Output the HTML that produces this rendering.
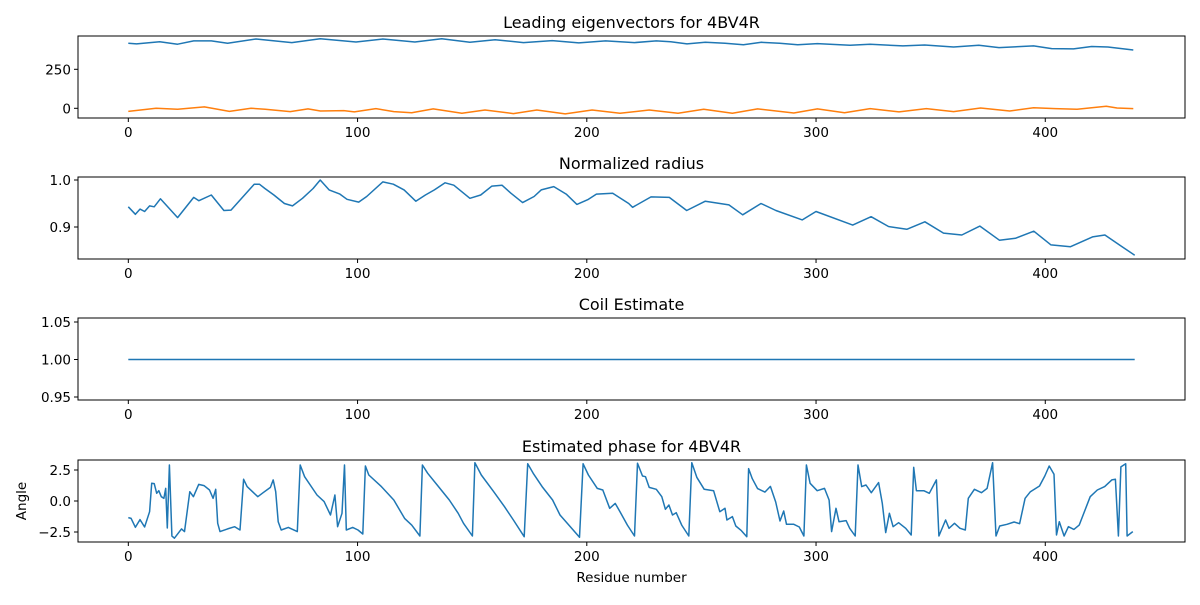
<!DOCTYPE html>
<html><head><meta charset="utf-8"><style>
body{margin:0;background:#fff}
svg text{font-family:"DejaVu Sans","Liberation Sans",sans-serif;fill:#000}
</style></head><body>
<svg id="fig" width="1200" height="600" xmlns="http://www.w3.org/2000/svg"></svg>
<script>
const eigX = [0,3.6,13.7,21.5,28.5,36.2,43.3,55.7,71.3,83.7,99.3,111,125,136.7,149,160,172.4,184.9,196.5,208.2,220.8,230.3,236.6,243.7,251.7,260.3,268.3,276.2,284.1,292,300.6,314.8,323.6,337.9,347.4,360,371,379.8,394.9,402.8,412.3,420.2,427.3,438.4];
const eigBlue = [417,413,427,411,432,432,417,444,421,446,425,444,425,446,423,440,421,434,419,432,421,432,427,413,423,417,408,423,417,408,415,404,410,400,406,393,404,389,400,383,381,396,393,374];
const orX = [0,12.1,21.5,33.2,44.1,53.5,59.7,70.6,78.4,83.8,94,98.6,108,115.8,123.6,133,145.5,155.6,168,178.2,190.6,202.3,214.5,227.2,239.8,251,263.5,274.5,290.3,300.6,312.4,323.6,336.2,348.1,360,371.8,384.5,394.9,404.4,413.9,426.6,431.3,438.4];
const orVals = [-20,0,-6,9,-20,0,-6,-21,-4,-17,-15,-23,-2,-21,-28,-4,-32,-11,-34,-11,-36,-11,-32,-11,-32,-6,-32,-4,-30,-4,-28,-2,-23,-2,-21,2,-17,4,-2,-6,13,2,-2];
const radX = [0,3.1,5.1,7.1,9.3,11.3,14,21.5,28.5,30.8,36.2,41.7,44.8,54.9,57.2,59.6,63.5,68.1,71.6,76,80.6,83.7,87.6,92.3,95.4,100.5,104,111,115.6,120.3,125.4,129.6,133.5,138.2,142,149,153.7,158.6,163,166.9,172,177,180.1,185.6,191,195.7,200.4,204.2,211.3,218.3,220,228,236,243.6,251.7,262,268,276,282.5,294,300,316,324,331.6,339.6,347.5,355.6,363.6,371.5,380,387,395,402.5,411,420.6,426,433.5,439];
const radVals = [0.943,0.927,0.938,0.933,0.945,0.943,0.960,0.920,0.963,0.956,0.968,0.935,0.936,0.991,0.991,0.982,0.968,0.950,0.945,0.961,0.982,1.0,0.979,0.970,0.959,0.953,0.965,0.996,0.991,0.979,0.955,0.968,0.979,0.994,0.989,0.961,0.968,0.987,0.989,0.972,0.952,0.965,0.979,0.986,0.970,0.948,0.958,0.970,0.972,0.950,0.942,0.964,0.963,0.935,0.955,0.947,0.926,0.950,0.935,0.915,0.933,0.904,0.922,0.901,0.895,0.911,0.887,0.883,0.902,0.872,0.876,0.891,0.862,0.858,0.879,0.883,0.858,0.840];
const coilX = [0,439];
const coilVals = [1,1];
const phX = [0,1.2,3.1,5.1,7.1,9.3,10.2,11.3,12.4,13.3,14.4,15.5,16.3,17,17.9,19,20.1,23.2,24.5,26.8,28.4,30.7,33,35.4,37,38.1,39,40,43.3,46.4,48.7,50.3,51.8,56.5,58.8,62,63.2,64.3,65.4,66.7,69.8,73.7,75,76.9,82.3,85.4,88.2,90.1,91.3,93.2,94.3,95.1,97.9,100.2,102.3,103.4,104.9,110.4,115.8,120.5,123.6,127.2,128.3,130.6,135.3,140,143.9,146.2,150.1,151.2,154,159.4,164.1,168,172.7,174.2,176.6,180.5,185.1,188.3,192.2,196.8,198.4,200.7,204.6,207,210,212.4,214.5,217.7,220.8,222.1,224.3,225.6,227.2,230.3,232.7,234.3,235.8,237.4,239,241.4,244.5,245.8,248,251.2,255.3,258,260.3,261.1,263.5,265,267.4,269.8,270.6,272.2,274.5,277.7,280.1,282.4,284.3,285.9,287.1,290.3,292.7,294.7,295.8,297.4,300.5,303.7,305.7,306.8,308.7,310,313.1,314.7,317.1,318.3,319.9,321.8,324.1,327.3,328.9,330.4,332,333.6,336,339.1,341.5,342.6,343.8,347,349.4,352.5,353.6,356.5,358,360.4,362.8,365.1,366.4,369.1,372.2,374.6,377,378.5,380.1,383.3,386.4,388.8,391.2,393.5,397.5,399.8,401.7,403.8,404.9,406.1,408.2,410.1,412.5,414.8,419.6,422.7,425.9,429,430.6,431.9,433,435.1,435.7,438.2];
const phVals = [-1.34,-1.4,-2.12,-1.5,-2.1,-0.86,1.43,1.4,0.62,0.83,0.35,0.22,1.02,-2.18,2.9,-2.82,-3.0,-2.25,-2.47,0.75,0.35,1.34,1.24,0.89,0.22,0.94,-1.8,-2.47,-2.25,-2.07,-2.34,1.75,1.16,0.35,0.67,1.1,1.7,0.75,-1.67,-2.34,-2.13,-2.47,2.9,1.96,0.48,-0.05,-1.13,0.48,-2.07,-0.99,2.9,-2.34,-2.13,-2.34,-2.66,2.82,2.1,1.16,0.08,-1.4,-1.94,-2.82,2.9,2.23,1.16,0.08,-0.99,-1.8,-2.82,3.09,2.1,0.75,-0.46,-1.53,-2.88,3.0,2.23,1.16,0.08,-1.13,-1.94,-2.93,3.0,2.1,1.02,0.89,-0.59,-0.19,-0.86,-1.94,-2.82,3.04,2.02,1.96,1.1,0.94,0.35,-0.67,-0.32,-1.13,-0.94,-1.94,-2.82,3.09,1.91,0.94,0.83,-0.86,-0.59,-1.53,-1.26,-2.02,-2.39,-2.88,2.61,1.8,1.0,0.72,1.18,-0.08,-1.61,-0.81,-1.88,-1.88,-2.1,-2.82,2.9,1.43,0.83,1.02,0.08,-2.47,-0.59,-1.67,-1.58,-2.2,-2.82,2.9,1.16,1.29,0.67,1.48,-0.19,-2.55,-0.99,-2.07,-1.75,-2.2,-2.74,2.71,0.83,0.83,0.62,1.7,-2.82,-1.53,-2.2,-1.8,-2.2,-2.34,0.22,0.94,0.67,1.02,3.09,-2.82,-2.02,-1.88,-1.69,-1.83,0.22,0.75,1.21,2.02,2.82,2.15,-2.74,-1.67,-2.82,-2.07,-2.29,-1.94,0.35,0.89,1.16,1.7,1.75,-2.82,2.75,3.0,-2.82,-2.47];
const xTicks = [0,100,200,300,400];

const NS='http://www.w3.org/2000/svg';
const svg=document.getElementById('fig');
function el(t,a,p){const e=document.createElementNS(NS,t);for(const k in a)e.setAttribute(k,a[k]);(p||svg).appendChild(e);return e;}
const L=78,R=1185;
const xs=v=>L+(v+21.95)*(R-L)/482.9;
function yscale(v1,p1,v2,p2){return v=>p1+(v-v1)*(p2-p1)/(v2-v1);}
function panel(name,top,bot,title,ys,yTicks,yLabels,series){
  const g=el('g',{});
  
  
  const t=el('text',{x:(L+R)/2,y:top-8,'text-anchor':'middle','font-size':'16'},g);
  t.textContent=title;
  
  
  series.forEach(s=>{
    const d=s.x.map((xv,i)=>(i?'L':'M')+xs(xv).toFixed(1)+','+ys(s.y[i]).toFixed(1)).join('');
    const p=el('path',{d:d,fill:'none',stroke:s.c,'stroke-width':'1.5','stroke-linejoin':'round'},g);
    
    
  });
  const r=el('rect',{x:L,y:top,width:R-L,height:bot-top,fill:'none',stroke:'#000','stroke-width':'1'},g);
  
  
  xTicks.forEach(v=>{
    el('line',{x1:xs(v),x2:xs(v),y1:bot,y2:bot+4,stroke:'#000'},g);
    const tx=el('text',{x:xs(v),y:bot+19,'text-anchor':'middle','font-size':'13.5'},g);
    tx.textContent=v;
    
    
  });
  yTicks.forEach((v,i)=>{
    el('line',{x1:L-4,x2:L,y1:ys(v),y2:ys(v),stroke:'#000'},g);
    const ty=el('text',{x:L-7,y:ys(v)+5,'text-anchor':'end','font-size':'13.5'},g);
    ty.textContent=yLabels[i];
    
    
  });
}
panel('eigenvector-panel',36,118,'Leading eigenvectors for 4BV4R',yscale(0,108.3,250,69.3),[0,250],['0','250'],
  [{x:eigX,y:eigBlue,c:'#1f77b4',n:'eigenvector-1-line'},{x:orX,y:orVals,c:'#ff7f0e',n:'eigenvector-2-line'}]);
panel('radius-panel',177,259,'Normalized radius',yscale(1.0,180,0.9,227),[0.9,1.0],['0.9','1.0'],
  [{x:radX,y:radVals,c:'#1f77b4',n:'radius-line'}]);
panel('coil-panel',318,400,'Coil Estimate',yscale(1.05,322,0.95,397),[0.95,1.0,1.05],['0.95','1.00','1.05'],
  [{x:coilX,y:coilVals,c:'#1f77b4',n:'coil-line'}]);
panel('phase-panel',460,542,'Estimated phase for 4BV4R',yscale(2.5,470,-2.5,532),[-2.5,0,2.5],['−2.5','0.0','2.5'],
  [{x:phX,y:phVals,c:'#1f77b4',n:'phase-line'}]);
const xl=el('text',{x:(L+R)/2,y:582,'text-anchor':'middle','font-size':'13.5'});
xl.textContent='Residue number';


const yl=el('text',{x:26,y:501,'text-anchor':'middle','font-size':'13.5',transform:'rotate(-90 26 501)'});
yl.textContent='Angle';


</script>
</body></html>
